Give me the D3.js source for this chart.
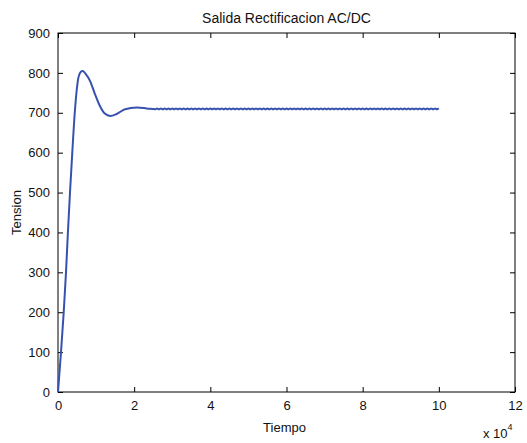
<!DOCTYPE html>
<html lang="es">
<head>
<meta charset="UTF-8">
<title>Salida Rectificacion AC/DC</title>
<script src="https://d3js.org/d3.v7.min.js"></script>
<style>
  body { margin: 0; background: #fff; font-family: "Liberation Sans", Arial, sans-serif; }
  text { fill: #111; }
</style>
</head>
<body>
<svg id="chart" width="527" height="443"></svg>
<script>
// tiempo en unidades de 10^4
const transientTime = [0, 0.079, 0.15, 0.21, 0.26, 0.315, 0.375, 0.44, 0.54, 0.6, 0.65, 0.72, 0.84, 0.97, 1.10, 1.23, 1.37, 1.54, 1.76, 2.07, 2.33, 2.55];
const transientTension = [0, 100, 200, 300, 400, 500, 600, 700, 790, 803, 805, 798, 780, 747, 717, 698, 692, 697, 709, 713, 711, 709];
// rizado en regimen permanente, cada 0.05e4 desde 2.6e4 hasta 10e4
const steadyStart = 2.6, steadyStep = 0.05;
const steadyTension = [
  711,709,711,709,711,709,711,709,711,709,711,709,711,709,711,709,711,709,711,709,
  711,709,711,709,711,709,711,709,711,709,711,709,711,709,711,709,711,709,711,709,
  711,709,711,709,711,709,711,709,711,709,711,709,711,709,711,709,711,709,711,709,
  711,709,711,709,711,709,711,709,711,709,711,709,711,709,711,709,711,709,711,709,
  711,709,711,709,711,709,711,709,711,709,711,709,711,709,711,709,711,709,711,709,
  711,709,711,709,711,709,711,709,711,709,711,709,711,709,711,709,711,709,711,709,
  711,709,711,709,711,709,711,709,711,709,711,709,711,709,711,709,711,709,711,709,
  711,709,711,709,711,709,711,709,711
];
const xTicks = [0, 2, 4, 6, 8, 10, 12];
const yTicks = [0, 100, 200, 300, 400, 500, 600, 700, 800, 900];

const margin = { left: 58, right: 12, top: 33, bottom: 51 };
const width = 527, height = 443;
const svg = d3.select("#chart");

const x = d3.scaleLinear().domain([0, 12]).range([margin.left, width - margin.right]);
const y = d3.scaleLinear().domain([0, 900]).range([height - margin.bottom, margin.top]);

const points = transientTime.map((t, i) => [t, transientTension[i]])
  .concat(steadyTension.map((v, i) => [steadyStart + i * steadyStep, v]));

// caja
svg.append("rect")
  .attr("x", x(0)).attr("y", y(900))
  .attr("width", x(12) - x(0)).attr("height", y(0) - y(900))
  .attr("fill", "none").attr("stroke", "#000").attr("stroke-width", 1);

const tickLen = 5;

svg.append("g")
  .attr("transform", `translate(0,${y(0)})`)
  .call(d3.axisBottom(x).tickValues(xTicks).tickSize(-tickLen).tickPadding(9).tickFormat(d => d))
  .call(g => g.select(".domain").remove());
svg.append("g")
  .attr("transform", `translate(0,${y(900)})`)
  .call(d3.axisTop(x).tickValues(xTicks).tickSize(-tickLen).tickFormat(""))
  .call(g => g.select(".domain").remove());
svg.append("g")
  .attr("transform", `translate(${x(0)},0)`)
  .call(d3.axisLeft(y).tickValues(yTicks).tickSize(-tickLen).tickPadding(8))
  .call(g => g.select(".domain").remove());
svg.append("g")
  .attr("transform", `translate(${x(12)},0)`)
  .call(d3.axisRight(y).tickValues(yTicks).tickSize(-tickLen).tickFormat(""))
  .call(g => g.select(".domain").remove());

svg.selectAll(".tick text")
  .attr("font-family", "'Liberation Sans', Arial, sans-serif")
  .attr("font-size", 13).attr("fill", "#111");
svg.selectAll(".tick line").attr("stroke", "#000");

svg.append("path")
  .datum(points)
  .attr("fill", "none")
  .attr("stroke", "#3752ae")
  .attr("stroke-width", 2)
  .attr("stroke-linejoin", "round")
  .attr("d", d3.line().curve(d3.curveMonotoneX).x(d => x(d[0])).y(d => y(d[1])));

svg.append("text")
  .attr("x", (x(0) + x(12)) / 2).attr("y", 23)
  .attr("text-anchor", "middle").attr("font-size", 14)
  .text("Salida Rectificacion AC/DC");

svg.append("text")
  .attr("x", (x(0) + x(12)) / 2 - 2).attr("y", 432)
  .attr("text-anchor", "middle").attr("font-size", 13)
  .text("Tiempo");

svg.append("text")
  .attr("transform", `translate(21,${(y(0) + y(900)) / 2}) rotate(-90)`)
  .attr("text-anchor", "middle").attr("font-size", 13)
  .text("Tension");

const mult = svg.append("text")
  .attr("x", 483).attr("y", 438).attr("font-size", 13);
mult.append("tspan").text("x 10");
mult.append("tspan").attr("dy", -8).attr("font-size", 9).text("4");
</script>
</body>
</html>
